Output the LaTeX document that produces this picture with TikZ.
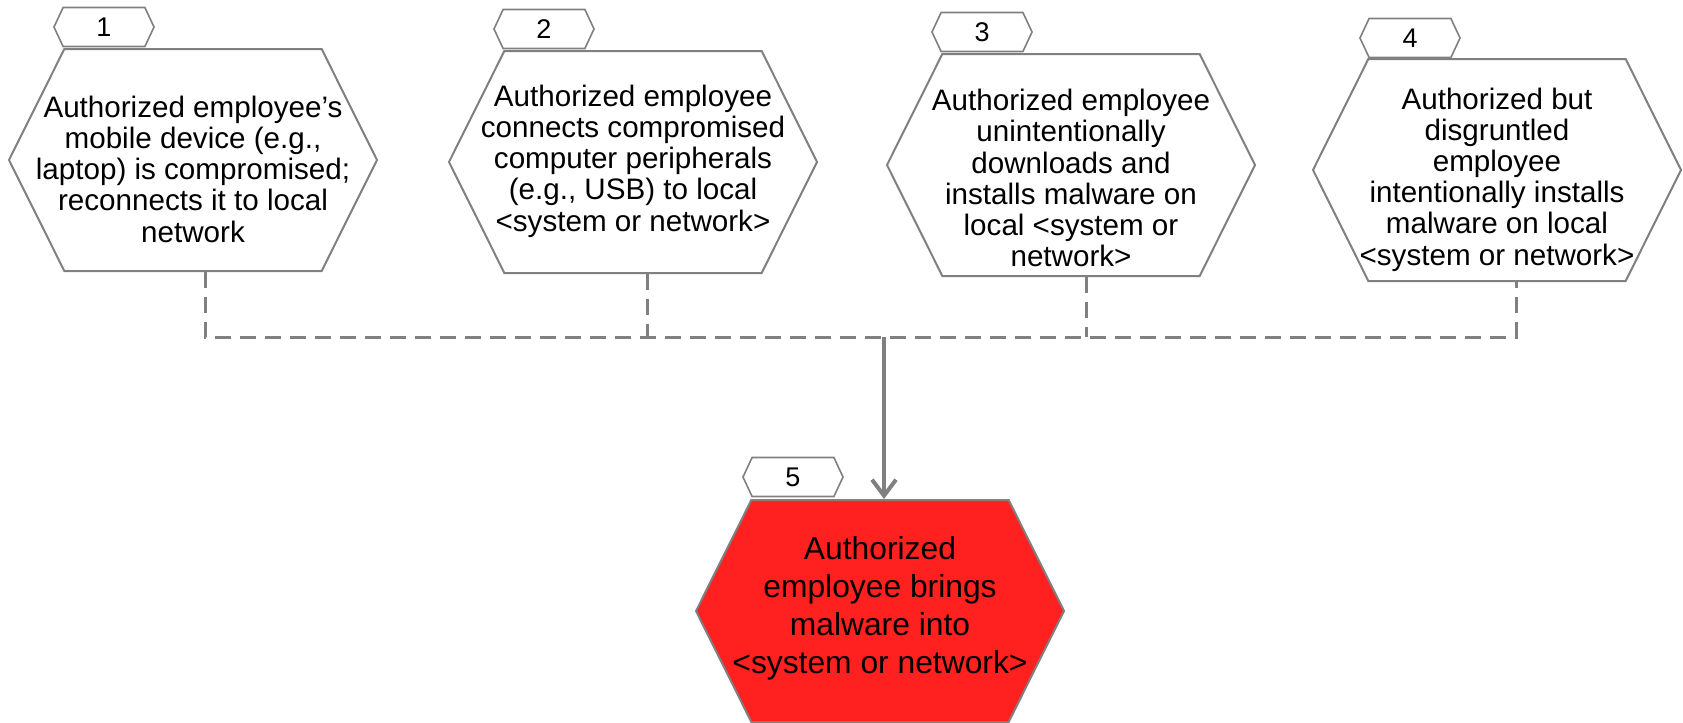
\documentclass[tikz,border=0pt]{standalone}
\usepackage{fontspec}
\setmainfont{Liberation Sans}
\usetikzlibrary{shapes.symbols,arrows.meta}

\definecolor{hexgray}{RGB}{128,128,128}
\definecolor{alertred}{RGB}{255,32,32}

% lines of a hexagon label, allowed to run into the slanted sides
\newcommand{\hexlines}[2][0pt]{\makebox[0pt]{\raisebox{#1}[\height][\depth]{%
  \begin{tabular}{@{}c@{}}#2\end{tabular}}}}

\tikzset{
  event/.style={signal, signal to=east and west, signal pointer angle=127,
    draw=hexgray, line width=1pt, minimum width=184pt, minimum height=111pt,
    inner sep=0pt, font=\fontsize{14.8}{15.6}\selectfont},
  top event/.style={event, fill=alertred, font=\fontsize{15.9}{19}\selectfont},
  tag/.style={signal, signal to=east and west, signal pointer angle=130,
    draw=hexgray, line width=0.8pt, fill=white, minimum width=50pt,
    minimum height=19.5pt, inner sep=0pt, font=\fontsize{13.5}{13.5}\selectfont},
  orline/.style={draw=hexgray, line width=1.5pt, dash pattern=on 8pt off 4.5pt},
  causes/.style={draw=hexgray, line width=2pt,
    -{Straight Barb[length=8pt,width=12pt]}}
}

\begin{document}
\begin{tikzpicture}[x=0.5pt, y=-0.5pt]
    \useasboundingbox (0,0) rectangle (1683,723);

    % Nodes
    \node[event] (h1) at (193,160) {\hexlines[-6.7pt]{Authorized employee’s\\mobile device (e.g.,\\laptop) is compromised;\\reconnects it to local\\network}};
    \node[event] (h2) at (633,162) {\hexlines[-0.2pt]{Authorized employee\\connects compromised\\computer peripherals\\(e.g., USB) to local\\<system or network>}};
    \node[event] (h3) at (1071,165) {\hexlines[-8.7pt]{Authorized employee\\unintentionally\\downloads and\\installs malware on\\local <system or\\network>}};
    \node[event] (h4) at (1497,170) {\hexlines[-5.4pt]{Authorized but\\disgruntled\\employee\\intentionally installs\\malware on local\\<system or network>}};
    \node[top event] (h5) at (880,611) {\hexlines[1.3pt]{Authorized\\employee brings\\malware into\\<system or network>}};

    \node[tag] (t1) at (104,27) {1};
    \node[tag] (t2) at (544,29) {2};
    \node[tag] (t3) at (982,32) {3};
    \node[tag] (t4) at (1410,38) {4};
    \node[tag] (t5) at (793,477) {5};

    \coordinate (bus) at (884,337);
    \coordinate (d1) at ([xshift=6pt]h1.south);
    \coordinate (d2) at ([xshift=7pt]h2.south);
    \coordinate (d3) at ([xshift=7.5pt]h3.south);
    \coordinate (d4) at ([xshift=9.5pt]h4.south);

    % Edges
    \draw[orline] (d1) |- (bus) -| (d4);
    \draw[orline] (d2) -- (d2 |- bus);
    \draw[orline] (d3) -- (d3 |- bus);
    \draw[causes] (bus) -- (bus |- h5.north);
\end{tikzpicture}
\end{document}
